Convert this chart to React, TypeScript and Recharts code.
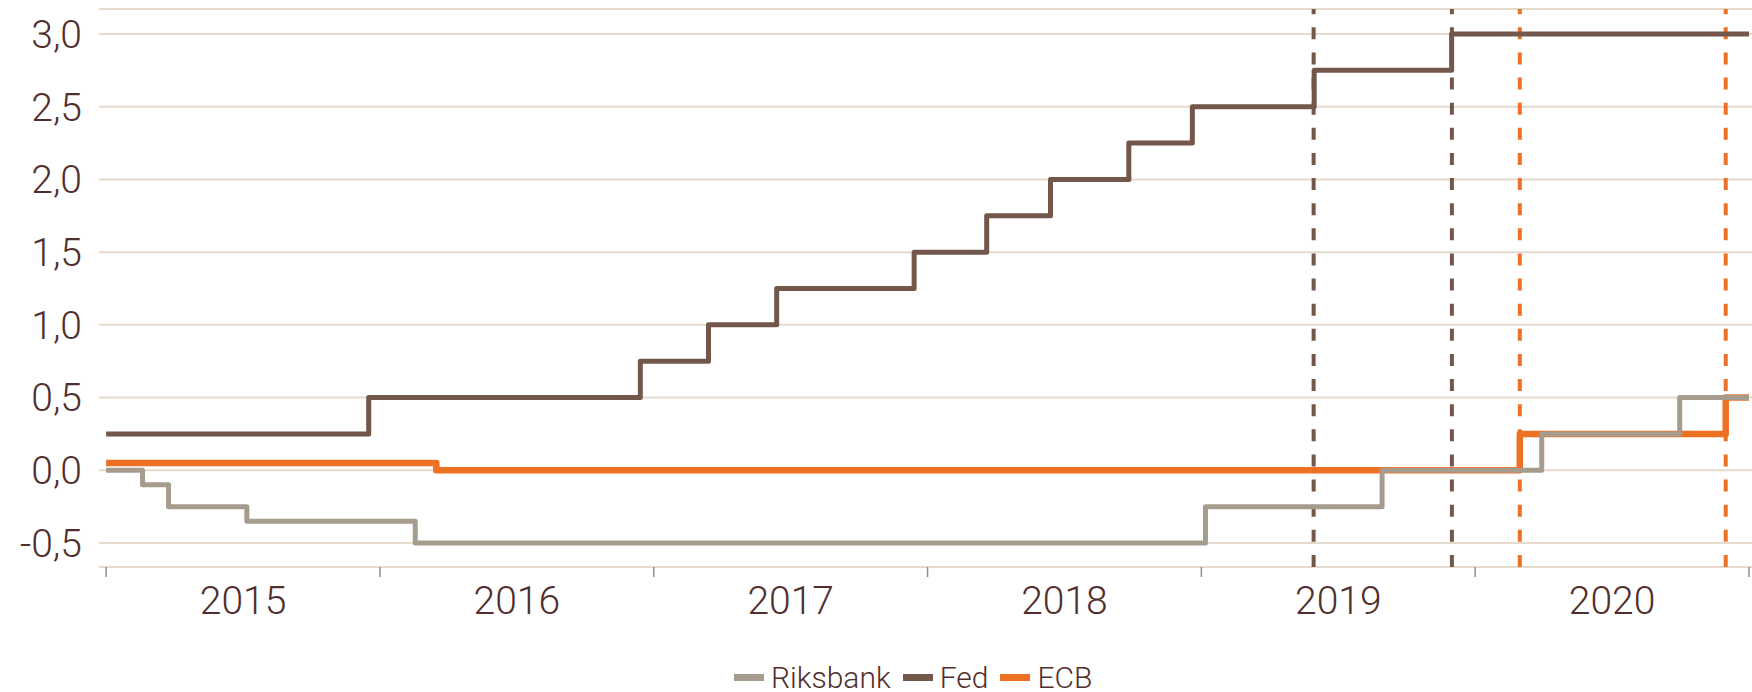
import React from 'react';
import { LineChart, Line, XAxis, YAxis, CartesianGrid, ReferenceLine, Legend } from 'recharts';

// policy rates, step changes (decimal year -> rate in %)
const riksbankDates = [2015.0, 2015.133, 2015.228, 2015.514, 2016.129, 2019.015, 2019.66, 2020.243, 2020.747, 2021.0];
const riksbankRates = [0, -0.1, -0.25, -0.35, -0.5, -0.25, 0, 0.25, 0.5, 0.5];

const fedDates = [2015.0, 2015.959, 2016.951, 2017.2, 2017.449, 2017.951, 2018.216, 2018.449, 2018.735, 2018.967, 2019.412, 2019.914, 2021.0];
const fedRates = [0.25, 0.5, 0.75, 1.0, 1.25, 1.5, 1.75, 2.0, 2.25, 2.5, 2.75, 3.0, 3.0];

const ecbDates = [2015.0, 2016.206, 2020.163, 2020.915, 2021.0];
const ecbRates = [0.05, 0, 0.25, 0.5, 0.5];

// expected hikes (dashed markers)
const fedMarks = [2019.41, 2019.915];
const ecbMarks = [2020.163, 2020.915];

const yearTicks = [2015, 2016, 2017, 2018, 2019, 2020, 2021];
const rateTicks = [-0.5, 0, 0.5, 1.0, 1.5, 2.0, 2.5, 3.0];

const COLORS = { riksbank: '#a59c8e', fed: '#73574a', ecb: '#ee7123' };
const TEXT = '#512e2e';
const FONT = 'Roboto, "Noto Sans", sans-serif';

const X_DOMAIN: [number, number] = [2014.974, 2021.011];
const PLOT_LEFT = 99;
const PLOT_W = 1752 - PLOT_LEFT;
const PX_PER_YEAR = PLOT_W / (X_DOMAIN[1] - X_DOMAIN[0]);

const toSeries = (dates: number[], rates: number[]) => dates.map((t, i) => ({ t, v: rates[i] }));

const riksbankData = toSeries(riksbankDates, riksbankRates);
const fedData = toSeries(fedDates, fedRates);
const ecbData = toSeries(ecbDates, ecbRates);

const YearTick = (props: any) => {
  const { x, y, payload } = props;
  if (payload.value >= 2021) return null;
  return (
    <text x={x + PX_PER_YEAR / 2} y={y} dy={35} textAnchor="middle" fill={TEXT} fontSize={39} fontWeight={300} fontFamily={FONT}>
      {payload.value}
    </text>
  );
};

const legendItems = [
  { name: 'Riksbank', color: COLORS.riksbank },
  { name: 'Fed', color: COLORS.fed },
  { name: 'ECB', color: COLORS.ecb },
];

const LegendContent = () => (
  <div style={{ display: 'flex', alignItems: 'center', paddingLeft: 734, paddingTop: 8, fontFamily: FONT, fontSize: 30, fontWeight: 300, color: TEXT }}>
    {legendItems.map((item) => (
      <div key={item.name} style={{ display: 'flex', alignItems: 'center', marginRight: 12 }}>
        <span style={{ display: 'inline-block', width: 30, height: 7, background: item.color, marginRight: 7 }} />
        <span>{item.name}</span>
      </div>
    ))}
  </div>
);

export default function App() {
  return (
    <div style={{ position: 'absolute', left: 0, top: 0, width: 1752, height: 692, background: '#fff' }}>
      <LineChart width={1752} height={692} margin={{ top: 9, right: 0, bottom: 0, left: 0 }}>
        <CartesianGrid vertical={false} stroke="#e6dacd" strokeWidth={2} />
        <XAxis
          type="number"
          dataKey="t"
          domain={X_DOMAIN}
          ticks={yearTicks}
          allowDataOverflow
          axisLine={false}
          tickLine={{ stroke: '#9c8c8a', strokeWidth: 1.5 }}
          tickSize={10}
          height={85}
          tick={<YearTick />}
        />
        <YAxis
          type="number"
          domain={[-0.665, 3.172]}
          ticks={rateTicks}
          allowDataOverflow
          axisLine={false}
          tickLine={false}
          tickSize={0}
          tickMargin={17}
          width={PLOT_LEFT}
          tickFormatter={(v: number) => v.toFixed(1).replace('.', ',')}
          tick={{ fill: TEXT, fontSize: 39, fontWeight: 300, fontFamily: FONT }}
        />
        {fedMarks.map((x) => (
          <ReferenceLine key={`fed-${x}`} x={x} stroke={COLORS.fed} strokeWidth={4} strokeDasharray="12 13.13" />
        ))}
        {ecbMarks.map((x) => (
          <ReferenceLine key={`ecb-${x}`} x={x} stroke={COLORS.ecb} strokeWidth={4} strokeDasharray="12 13.13" />
        ))}
        <Line data={ecbData} dataKey="v" type="stepAfter" stroke={COLORS.ecb} strokeWidth={6.5} dot={false} strokeLinejoin="round" isAnimationActive={false} />
        <Line data={fedData} dataKey="v" type="stepAfter" stroke={COLORS.fed} strokeWidth={5} dot={false} strokeLinejoin="round" isAnimationActive={false} />
        <Line data={riksbankData} dataKey="v" type="stepAfter" stroke={COLORS.riksbank} strokeWidth={5} dot={false} strokeLinejoin="round" isAnimationActive={false} />
        <Legend verticalAlign="bottom" height={40} content={<LegendContent />} />
      </LineChart>
    </div>
  );
}
